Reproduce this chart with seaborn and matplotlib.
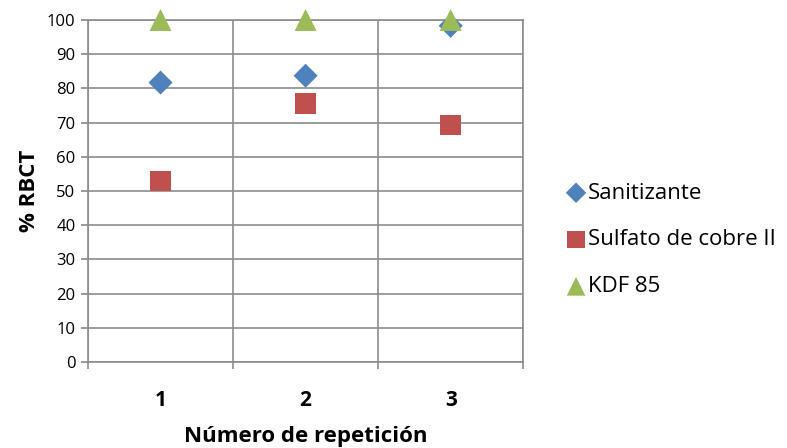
import pandas as pd
import matplotlib.pyplot as plt
import seaborn as sns
from matplotlib.ticker import MultipleLocator, FixedLocator

sns.set_theme(style="white")
plt.rcParams['font.family'] = ['Open Sans', 'DejaVu Sans']
plt.rcParams['text.color'] = 'black'
plt.rcParams['axes.labelcolor'] = 'black'
plt.rcParams['xtick.color'] = 'black'
plt.rcParams['ytick.color'] = 'black'

repeticion = [1, 2, 3]
sanitizante = [81.7, 83.7, 98.3]
sulfato = [52.9, 75.6, 69.3]
kdf = [100, 100, 100]

series = ["Sanitizante", "Sulfato de cobre II", "KDF 85"]
colors = ["#4F81BD", "#C0504D", "#9BBB59"]
markers = ["D", "s", "^"]
sizes = [150, 225, 250]

df = pd.DataFrame({
    "rep": repeticion * 3,
    "val": sanitizante + sulfato + kdf,
    "serie": [series[0]] * 3 + [series[1]] * 3 + [series[2]] * 3,
})

fig = plt.figure(figsize=(7.87, 4.48), dpi=100)
ax = fig.add_axes([0.1118, 0.192, 0.553, 0.7634])

for name, c, m, s in zip(series, colors, markers, sizes):
    sns.scatterplot(data=df[df["serie"] == name], x="rep", y="val", ax=ax,
                    color=c, marker=m, s=s, edgecolor="none", label=name,
                    zorder=3, clip_on=False)

ax.set_xlim(0.5, 3.5)
ax.set_ylim(0, 100)
ax.yaxis.set_major_locator(MultipleLocator(10))
ax.set_xticks(repeticion)
ax.set_xticklabels([str(r) for r in repeticion], fontsize=15, fontweight="bold")
ax.xaxis.set_minor_locator(FixedLocator([0.5, 1.5, 2.5, 3.5]))

grid_c = "#8C8C8C"
ax.grid(False)
ax.yaxis.grid(True, which="major", color=grid_c, linewidth=1.2)
ax.xaxis.grid(True, which="minor", color=grid_c, linewidth=1.2)
for sp in ax.spines.values():
    sp.set_color(grid_c)
    sp.set_linewidth(1.2)

ax.tick_params(axis="y", which="major", left=True, length=5, color=grid_c,
               labelsize=12, pad=4, labelcolor="black")
ax.tick_params(axis="x", which="major", bottom=False, labelsize=15, pad=14,
               labelcolor="black")
ax.tick_params(axis="x", which="minor", bottom=True, length=5, color=grid_c,
               width=1.2)

ax.set_xlabel("Número de repetición", fontsize=16, fontweight="bold")
ax.set_ylabel("% RBCT", fontsize=16, fontweight="bold")
ax.xaxis.set_label_coords(0.5, -0.188)
ax.yaxis.set_label_coords(-0.11, 0.5)

ax.legend(loc="center left", bbox_to_anchor=(1.05, 0.357), frameon=False,
          fontsize=16, handletextpad=0.05, labelspacing=1.16, markerscale=0.85,
          handlelength=1.0, labelcolor="black")

fig.savefig("out.png", dpi=100)
